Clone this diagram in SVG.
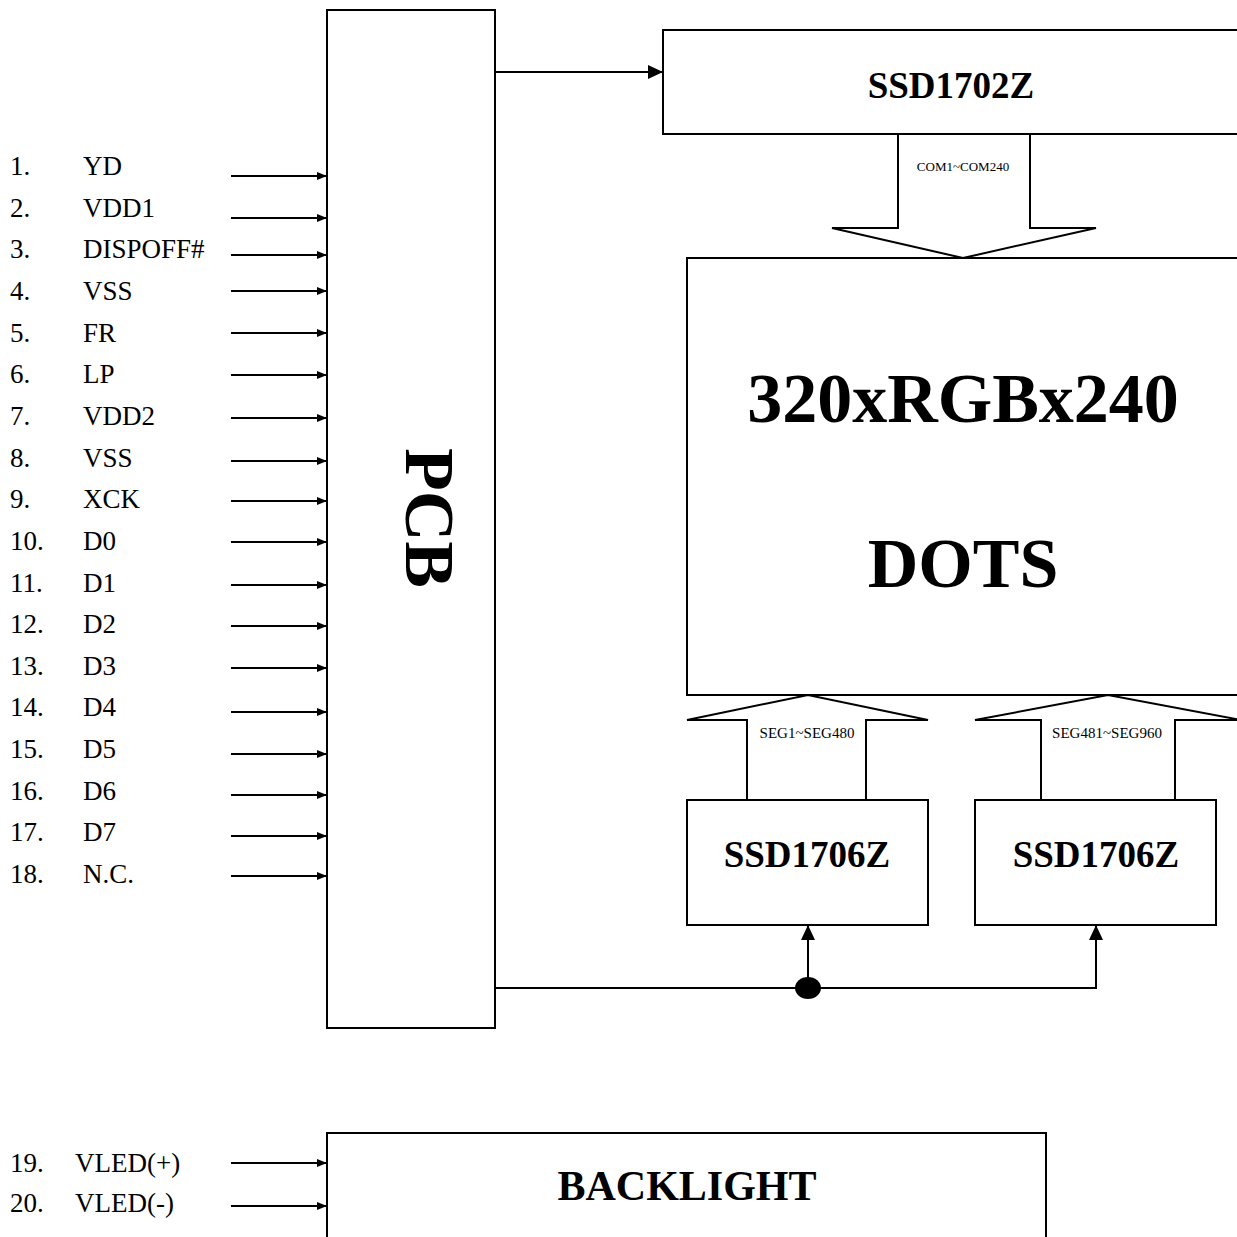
<svg xmlns="http://www.w3.org/2000/svg" width="1237" height="1237" viewBox="0 0 1237 1237">
<style>
.box{fill:#fff;stroke:#000;stroke-width:2}
.ln{fill:none;stroke:#000;stroke-width:2}
.pin{font-family:"Liberation Serif",serif;font-size:27px;fill:#000}
.big{font-family:"Liberation Serif",serif;font-weight:bold;fill:#000;text-anchor:middle}
.sm{font-family:"Liberation Serif",serif;fill:#000;text-anchor:middle}
</style>
<defs>
<marker id="a" markerWidth="10" markerHeight="8" refX="10" refY="4" orient="auto" markerUnits="userSpaceOnUse"><path d="M0,0 L10,4 L0,8 Z" fill="#000"/></marker>
<marker id="b" markerWidth="15" markerHeight="14" refX="15" refY="7" orient="auto" markerUnits="userSpaceOnUse"><path d="M0,0 L15,7 L0,14 Z" fill="#000"/></marker>
</defs>
<rect width="1237" height="1237" fill="#fff"/>

<g id="pcb">
<rect class="box" x="327" y="10" width="168" height="1018"/>
<text class="big" font-size="70" transform="translate(406,518) rotate(90)">PCB</text>
</g>

<g id="ssd1702z">
<rect class="box" x="663" y="30" width="600" height="104"/>
<text class="big" font-size="37" x="951" y="98">SSD1702Z</text>
</g>

<g id="display">
<rect class="box" x="687" y="258" width="600" height="437"/>
<text class="big" font-size="70" x="963" y="422">320xRGBx240</text>
<text class="big" font-size="70" x="963" y="587">DOTS</text>
</g>

<g id="ssd1706z-1">
<rect class="box" x="687" y="800" width="241" height="125"/>
<text class="big" font-size="37" x="807" y="867">SSD1706Z</text>
</g>

<g id="ssd1706z-2">
<rect class="box" x="975" y="800" width="241" height="125"/>
<text class="big" font-size="37" x="1096" y="867">SSD1706Z</text>
</g>

<g id="backlight">
<rect class="box" x="327" y="1133" width="719" height="110"/>
<text class="big" font-size="42" x="687" y="1200">BACKLIGHT</text>
</g>

<g id="pins">
<text class="pin" x="10" y="175">1.</text><text class="pin" x="83" y="175">YD</text>
<text class="pin" x="10" y="217">2.</text><text class="pin" x="83" y="217">VDD1</text>
<text class="pin" x="10" y="258">3.</text><text class="pin" x="83" y="258">DISPOFF#</text>
<text class="pin" x="10" y="300">4.</text><text class="pin" x="83" y="300">VSS</text>
<text class="pin" x="10" y="342">5.</text><text class="pin" x="83" y="342">FR</text>
<text class="pin" x="10" y="383">6.</text><text class="pin" x="83" y="383">LP</text>
<text class="pin" x="10" y="425">7.</text><text class="pin" x="83" y="425">VDD2</text>
<text class="pin" x="10" y="467">8.</text><text class="pin" x="83" y="467">VSS</text>
<text class="pin" x="10" y="508">9.</text><text class="pin" x="83" y="508">XCK</text>
<text class="pin" x="10" y="550">10.</text><text class="pin" x="83" y="550">D0</text>
<text class="pin" x="10" y="592">11.</text><text class="pin" x="83" y="592">D1</text>
<text class="pin" x="10" y="633">12.</text><text class="pin" x="83" y="633">D2</text>
<text class="pin" x="10" y="675">13.</text><text class="pin" x="83" y="675">D3</text>
<text class="pin" x="10" y="716">14.</text><text class="pin" x="83" y="716">D4</text>
<text class="pin" x="10" y="758">15.</text><text class="pin" x="83" y="758">D5</text>
<text class="pin" x="10" y="800">16.</text><text class="pin" x="83" y="800">D6</text>
<text class="pin" x="10" y="841">17.</text><text class="pin" x="83" y="841">D7</text>
<text class="pin" x="10" y="883">18.</text><text class="pin" x="83" y="883">N.C.</text>
<text class="pin" x="10" y="1172">19.</text><text class="pin" x="75" y="1172">VLED(+)</text>
<text class="pin" x="10" y="1212">20.</text><text class="pin" x="75" y="1212">VLED(-)</text>
</g>

<g id="connectors">
<g class="ln" marker-end="url(#a)">
<path d="M231,176H327"/>
<path d="M231,218H327"/>
<path d="M231,255H327"/>
<path d="M231,291H327"/>
<path d="M231,333H327"/>
<path d="M231,375H327"/>
<path d="M231,418H327"/>
<path d="M231,461H327"/>
<path d="M231,501H327"/>
<path d="M231,542H327"/>
<path d="M231,585H327"/>
<path d="M231,626H327"/>
<path d="M231,668H327"/>
<path d="M231,712H327"/>
<path d="M231,754H327"/>
<path d="M231,795H327"/>
<path d="M231,836H327"/>
<path d="M231,876H327"/>
<path d="M231,1163H327"/>
<path d="M231,1206H327"/>
</g>
<path class="ln" d="M495,72H663" marker-end="url(#b)"/>
<path class="ln" d="M495,988H1096V925" marker-end="url(#b)"/>
<path class="ln" d="M808,988V925" marker-end="url(#b)"/>
<ellipse cx="808" cy="988" rx="13" ry="11" fill="#000"/>
<path class="ln" d="M898,134V228H832L963,258L1096,228H1030V134"/>
<text class="sm" font-size="13" x="963" y="171">COM1~COM240</text>
<path class="ln" d="M747,800V720H687L808,695L928,720H866V800"/>
<text class="sm" font-size="15" x="807" y="738">SEG1~SEG480</text>
<path class="ln" d="M1041,800V720H975L1108,695L1241,720H1175V800"/>
<text class="sm" font-size="15" x="1107" y="738">SEG481~SEG960</text>
</g>
</svg>
